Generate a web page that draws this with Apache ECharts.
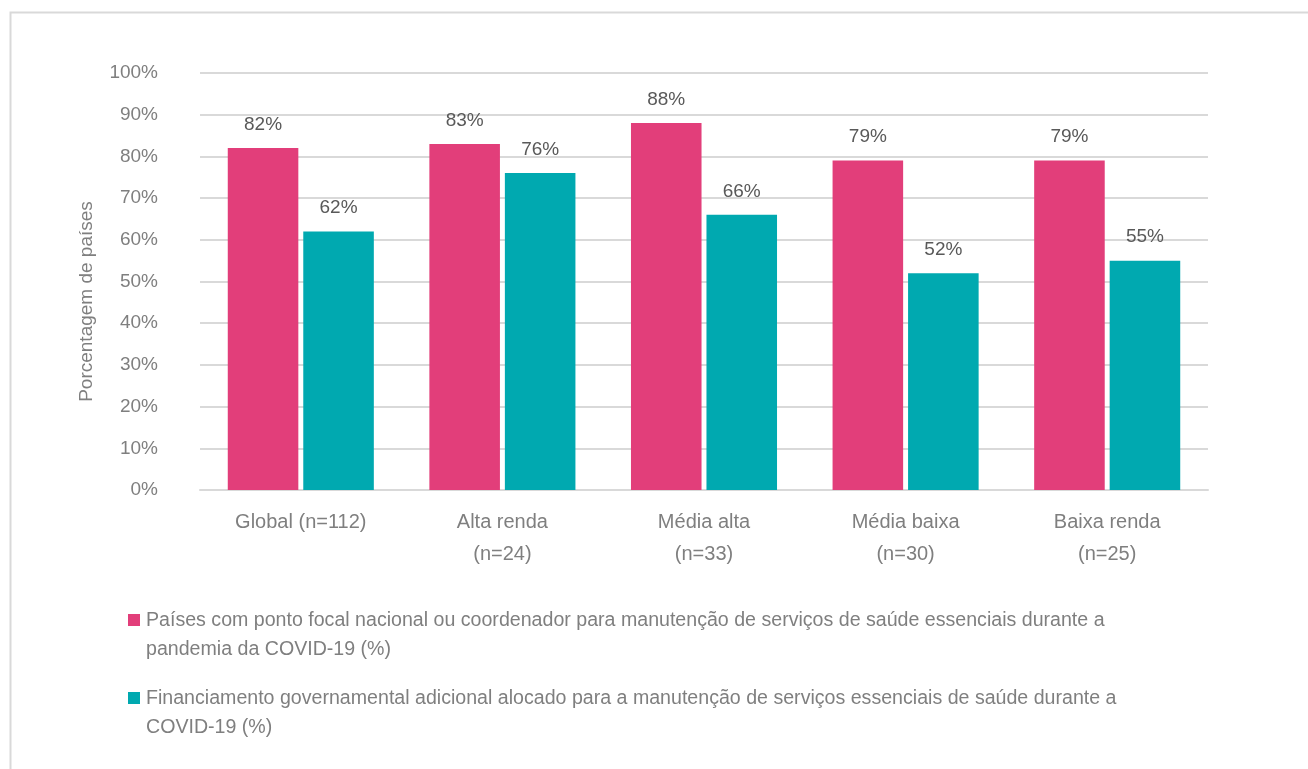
<!DOCTYPE html>
<html>
<head>
<meta charset="utf-8">
<script src="https://cdn.jsdelivr.net/npm/echarts@6/dist/echarts.min.js"></script>
<style>
  html, body { margin: 0; padding: 0; background: #fff; }
  #chart { width: 1308px; height: 769px; }
</style>
</head>
<body>
<div id="chart"></div>
<script>
// Income groups (with sample size)
const categories = [
  'Global (n=112)',
  'Alta renda\n(n=24)',
  'Média alta\n(n=33)',
  'Média baixa\n(n=30)',
  'Baixa renda\n(n=25)'
];

const seriesNames = [
  'Países com ponto focal nacional ou coordenador para manutenção de serviços de saúde essenciais durante a\npandemia da COVID-19 (%)',
  'Financiamento governamental adicional alocado para a manutenção de serviços essenciais de saúde durante a\nCOVID-19 (%)'
];

const focalPoint = [82, 83, 88, 79, 79];
const extraFunding = [62, 76, 66, 52, 55];

const yTicks = [0, 10, 20, 30, 40, 50, 60, 70, 80, 90, 100];

const colors = ['#E23E7A', '#00A9B0'];
const FONT = '"Liberation Sans", Arial, sans-serif';
const AXIS_GRAY = '#7f7f7f';
const LABEL_GRAY = '#595959';

const chart = echarts.init(document.getElementById('chart'), null, { renderer: 'canvas' });

// Legend drawn as graphic items so each coloured square sits beside the first text line
const legendTop = [606, 684];
const legendGraphics = [];
seriesNames.forEach((name, i) => {
  legendGraphics.push({
    type: 'rect',
    left: 128,
    top: legendTop[i] + 8,
    shape: { width: 12, height: 12 },
    style: { fill: colors[i] }
  });
  legendGraphics.push({
    type: 'text',
    left: 146,
    top: legendTop[i],
    style: {
      text: name,
      fill: AXIS_GRAY,
      font: '19.6px ' + FONT,
      lineHeight: 29
    }
  });
});

const barLabel = {
  show: true,
  position: 'top',
  distance: 14,
  color: LABEL_GRAY,
  fontFamily: FONT,
  fontSize: 19,
  formatter: p => p.value + '%'
};

chart.setOption({
  animation: false,
  backgroundColor: '#fff',
  textStyle: { fontFamily: FONT },
  grid: { left: 200, right: 100, top: 73, bottom: 279, containLabel: false },
  graphic: [
    {
      type: 'rect',
      left: 8,
      top: 10,
      shape: { width: 1400, height: 800 },
      style: { fill: 'none', stroke: '#d9d9d9', lineWidth: 2 },
      silent: true
    }
  ].concat(legendGraphics),
  xAxis: {
    type: 'category',
    data: categories,
    axisLine: { show: true, lineStyle: { color: '#d9d9d9', width: 2 } },
    axisTick: { show: false },
    axisLabel: {
      color: AXIS_GRAY,
      fontSize: 20,
      lineHeight: 32,
      margin: 16,
      interval: 0
    }
  },
  yAxis: {
    type: 'value',
    min: yTicks[0],
    max: yTicks[yTicks.length - 1],
    interval: 10,
    name: 'Porcentagem de países',
    nameLocation: 'middle',
    nameGap: 104,
    nameRotate: 90,
    nameTextStyle: { color: AXIS_GRAY, fontSize: 19, padding: [0, 40, 0, 0] },
    axisLine: { show: false },
    axisTick: { show: false },
    splitLine: { lineStyle: { color: '#d9d9d9', width: 2 } },
    axisLabel: {
      color: AXIS_GRAY,
      fontSize: 19,
      margin: 42,
      formatter: v => v + '%'
    }
  },
  series: [
    {
      name: seriesNames[0],
      type: 'bar',
      data: focalPoint,
      barWidth: '35%',
      barGap: '7%',
      itemStyle: { color: colors[0] },
      label: barLabel
    },
    {
      name: seriesNames[1],
      type: 'bar',
      data: extraFunding,
      barWidth: '35%',
      itemStyle: { color: colors[1] },
      label: barLabel
    }
  ]
});
</script>
</body>
</html>
